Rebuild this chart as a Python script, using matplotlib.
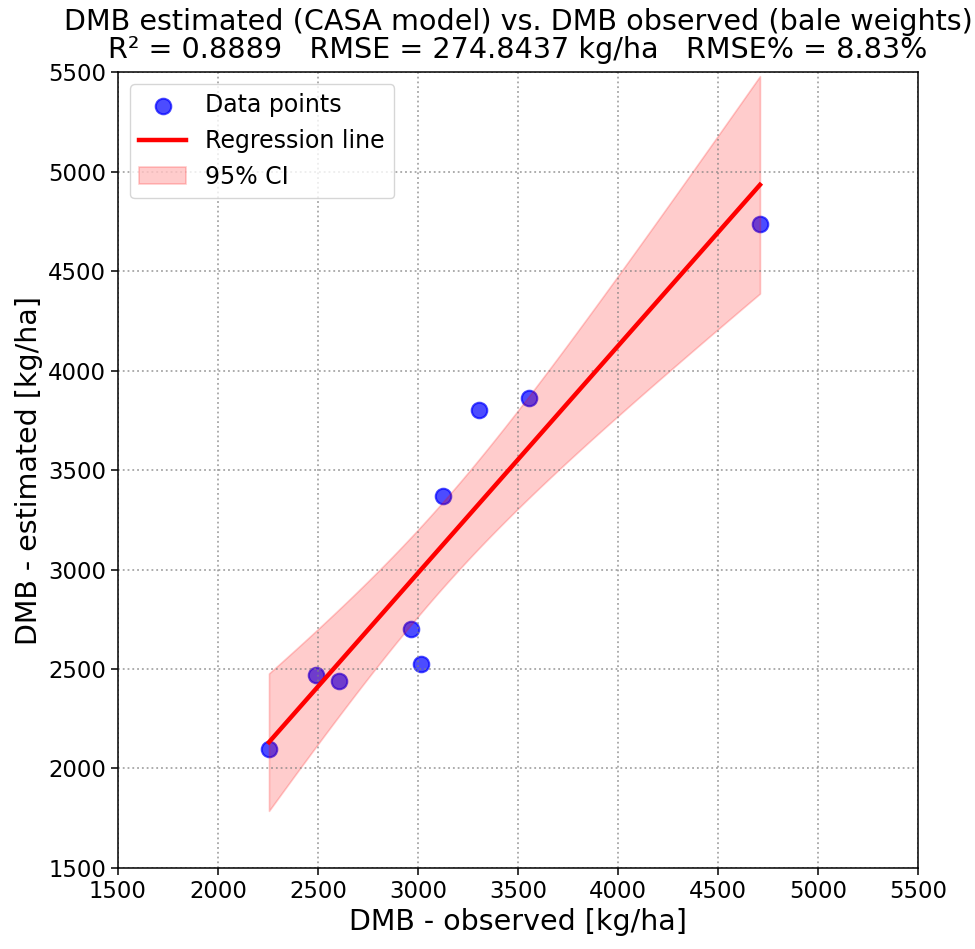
import numpy as np
import matplotlib
matplotlib.use("Agg")
import matplotlib.pyplot as plt

# observed vs estimated DMB [kg/ha]
observed = [2255, 2490, 2605, 2965, 3015, 3125, 3305, 3555, 4710]
estimated = [2100, 2472, 2440, 2702, 2525, 3370, 3802, 3862, 4737]
ticks = [1500, 2000, 2500, 3000, 3500, 4000, 4500, 5000, 5500]

x = np.array(observed, dtype=float)
y = np.array(estimated, dtype=float)
n = len(x)

# linear fit + 95% band of the mean
slope, intercept = np.polyfit(x, y, 1)
xs = np.linspace(x.min(), x.max(), 100)
ys = slope * xs + intercept
resid = y - (slope * x + intercept)
s_err = np.sqrt(np.sum(resid ** 2) / (n - 2))
crit = 2.07  # band width
ci = crit * s_err * np.sqrt(1 / n + (xs - x.mean()) ** 2 / np.sum((x - x.mean()) ** 2))

fig = plt.figure(figsize=(9.75, 9.49), dpi=100)
ax = fig.add_axes([0.121, 0.0854, 0.8205, 0.8386])

ax.scatter(x, y, s=125, color="blue", alpha=0.7, edgecolors="blue", linewidths=1.5,
           label="Data points")
ax.plot(xs, ys, color="red", lw=3.2, label="Regression line")
ax.fill_between(xs, ys - ci, ys + ci, color="red", alpha=0.2, lw=1.2, label="95% CI")

ax.set_xlim(1500, 5500)
ax.set_ylim(1500, 5500)
ax.set_xticks(ticks)
ax.set_yticks(ticks)
ax.tick_params(labelsize=16.4, length=5, width=1.1)
for sp in ax.spines.values():
    sp.set_linewidth(1.1)
ax.grid(True, linestyle=":", color="gray", alpha=0.7, lw=1.3)

ax.set_xlabel("DMB - observed [kg/ha]", fontsize=20.5)
ax.set_ylabel("DMB - estimated [kg/ha]", fontsize=20.5)
ax.set_title("DMB estimated (CASA model) vs. DMB observed (bale weights)\n"
             "R² = 0.8889   RMSE = 274.8437 kg/ha   RMSE% = 8.83%",
             fontsize=20.6, linespacing=1.0, pad=10)
ax.legend(loc="upper left", fontsize=17)

fig.savefig("out.png", dpi=100)
